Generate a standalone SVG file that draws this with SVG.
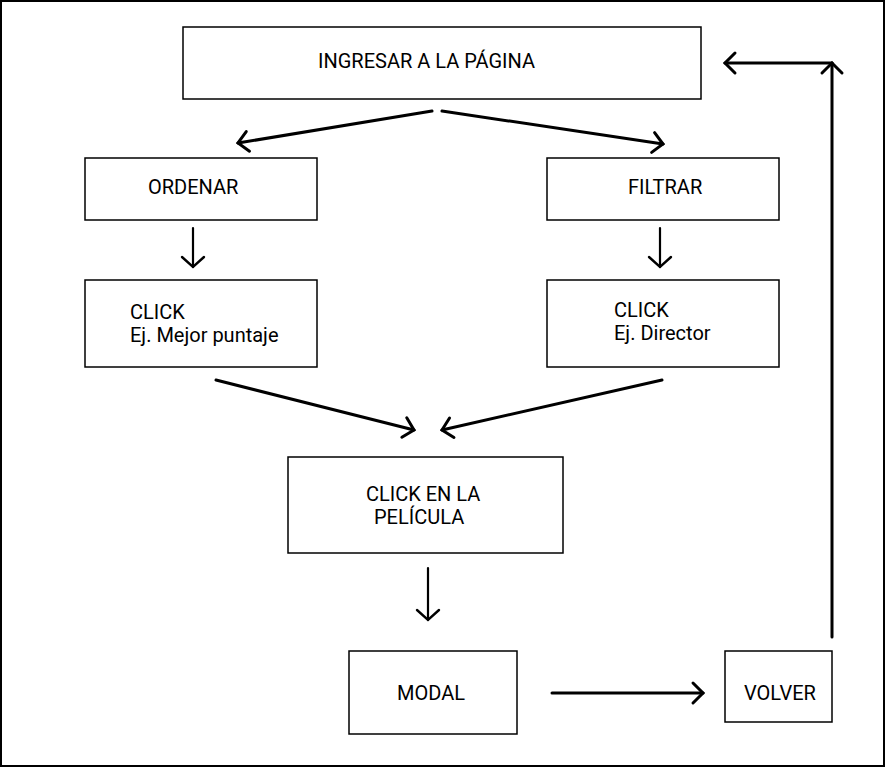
<svg xmlns="http://www.w3.org/2000/svg" width="886" height="768" viewBox="0 0 886 768">
<style>
.box{fill:#fff;stroke:#000;stroke-width:1.5}
.t{font-family:Roboto,"Liberation Sans",sans-serif;font-size:20px;fill:#000}
.c{fill:none;stroke:#000;stroke-width:3;stroke-linecap:round}
.c2{fill:none;stroke:#000;stroke-width:2.2;stroke-linecap:round}
</style>
<defs>
<marker id="ah" markerUnits="userSpaceOnUse" markerWidth="30" markerHeight="30" refX="15" refY="15" orient="auto" overflow="visible">
<path d="M5,5 L15,15 L5,25" fill="none" stroke="#000" stroke-width="3" stroke-linecap="round"/>
</marker>
<marker id="ah2" markerUnits="userSpaceOnUse" markerWidth="30" markerHeight="30" refX="15" refY="15" orient="auto" overflow="visible">
<path d="M5,4 L15,15 L5,26" fill="none" stroke="#000" stroke-width="2.4" stroke-linecap="round"/>
</marker>
</defs>
<rect x="1" y="1" width="883" height="765" fill="#fff" stroke="#000" stroke-width="2"/>
<g id="n-ingresar"><rect class="box" x="183" y="27" width="518" height="72"/><text class="t" x="318" y="68">INGRESAR A LA PÁGINA</text></g>
<g id="n-ordenar"><rect class="box" x="85" y="158" width="232" height="62"/><text class="t" x="148" y="194">ORDENAR</text></g>
<g id="n-filtrar"><rect class="box" x="547" y="158" width="232" height="62"/><text class="t" x="628" y="194">FILTRAR</text></g>
<g id="n-click1"><rect class="box" x="85" y="280" width="232" height="87"/><text class="t" x="130" y="319">CLICK</text><text class="t" x="130" y="342">Ej. Mejor puntaje</text></g>
<g id="n-click2"><rect class="box" x="547" y="280" width="232" height="87"/><text class="t" x="614" y="317">CLICK</text><text class="t" x="614" y="340">Ej. Director</text></g>
<g id="n-pelicula"><rect class="box" x="288" y="457" width="275" height="96"/><text class="t" x="366" y="501">CLICK EN LA</text><text class="t" x="374" y="524">PELÍCULA</text></g>
<g id="n-modal"><rect class="box" x="349" y="651" width="168" height="83"/><text class="t" x="397" y="700">MODAL</text></g>
<g id="n-volver"><rect class="box" x="725" y="651" width="107" height="71"/><text class="t" x="744" y="700">VOLVER</text></g>
<g id="connectors">
<path class="c" d="M432,111 L238,143" marker-end="url(#ah)"/>
<path class="c" d="M442,111 L663,144" marker-end="url(#ah)"/>
<path class="c2" d="M193,228 L193,267" marker-end="url(#ah2)"/>
<path class="c2" d="M660,228 L660,267" marker-end="url(#ah2)"/>
<path class="c" d="M216,380 L414,430" marker-end="url(#ah)"/>
<path class="c" d="M662,380 L442,430" marker-end="url(#ah)"/>
<path class="c2" d="M428,568 L428,620" marker-end="url(#ah2)"/>
<path class="c" d="M552,693 L703,693" marker-end="url(#ah)"/>
<path class="c" d="M832,637 L832,63" marker-end="url(#ah)"/>
<path class="c" d="M832,63 L725,63" marker-end="url(#ah)"/>
</g>
</svg>
